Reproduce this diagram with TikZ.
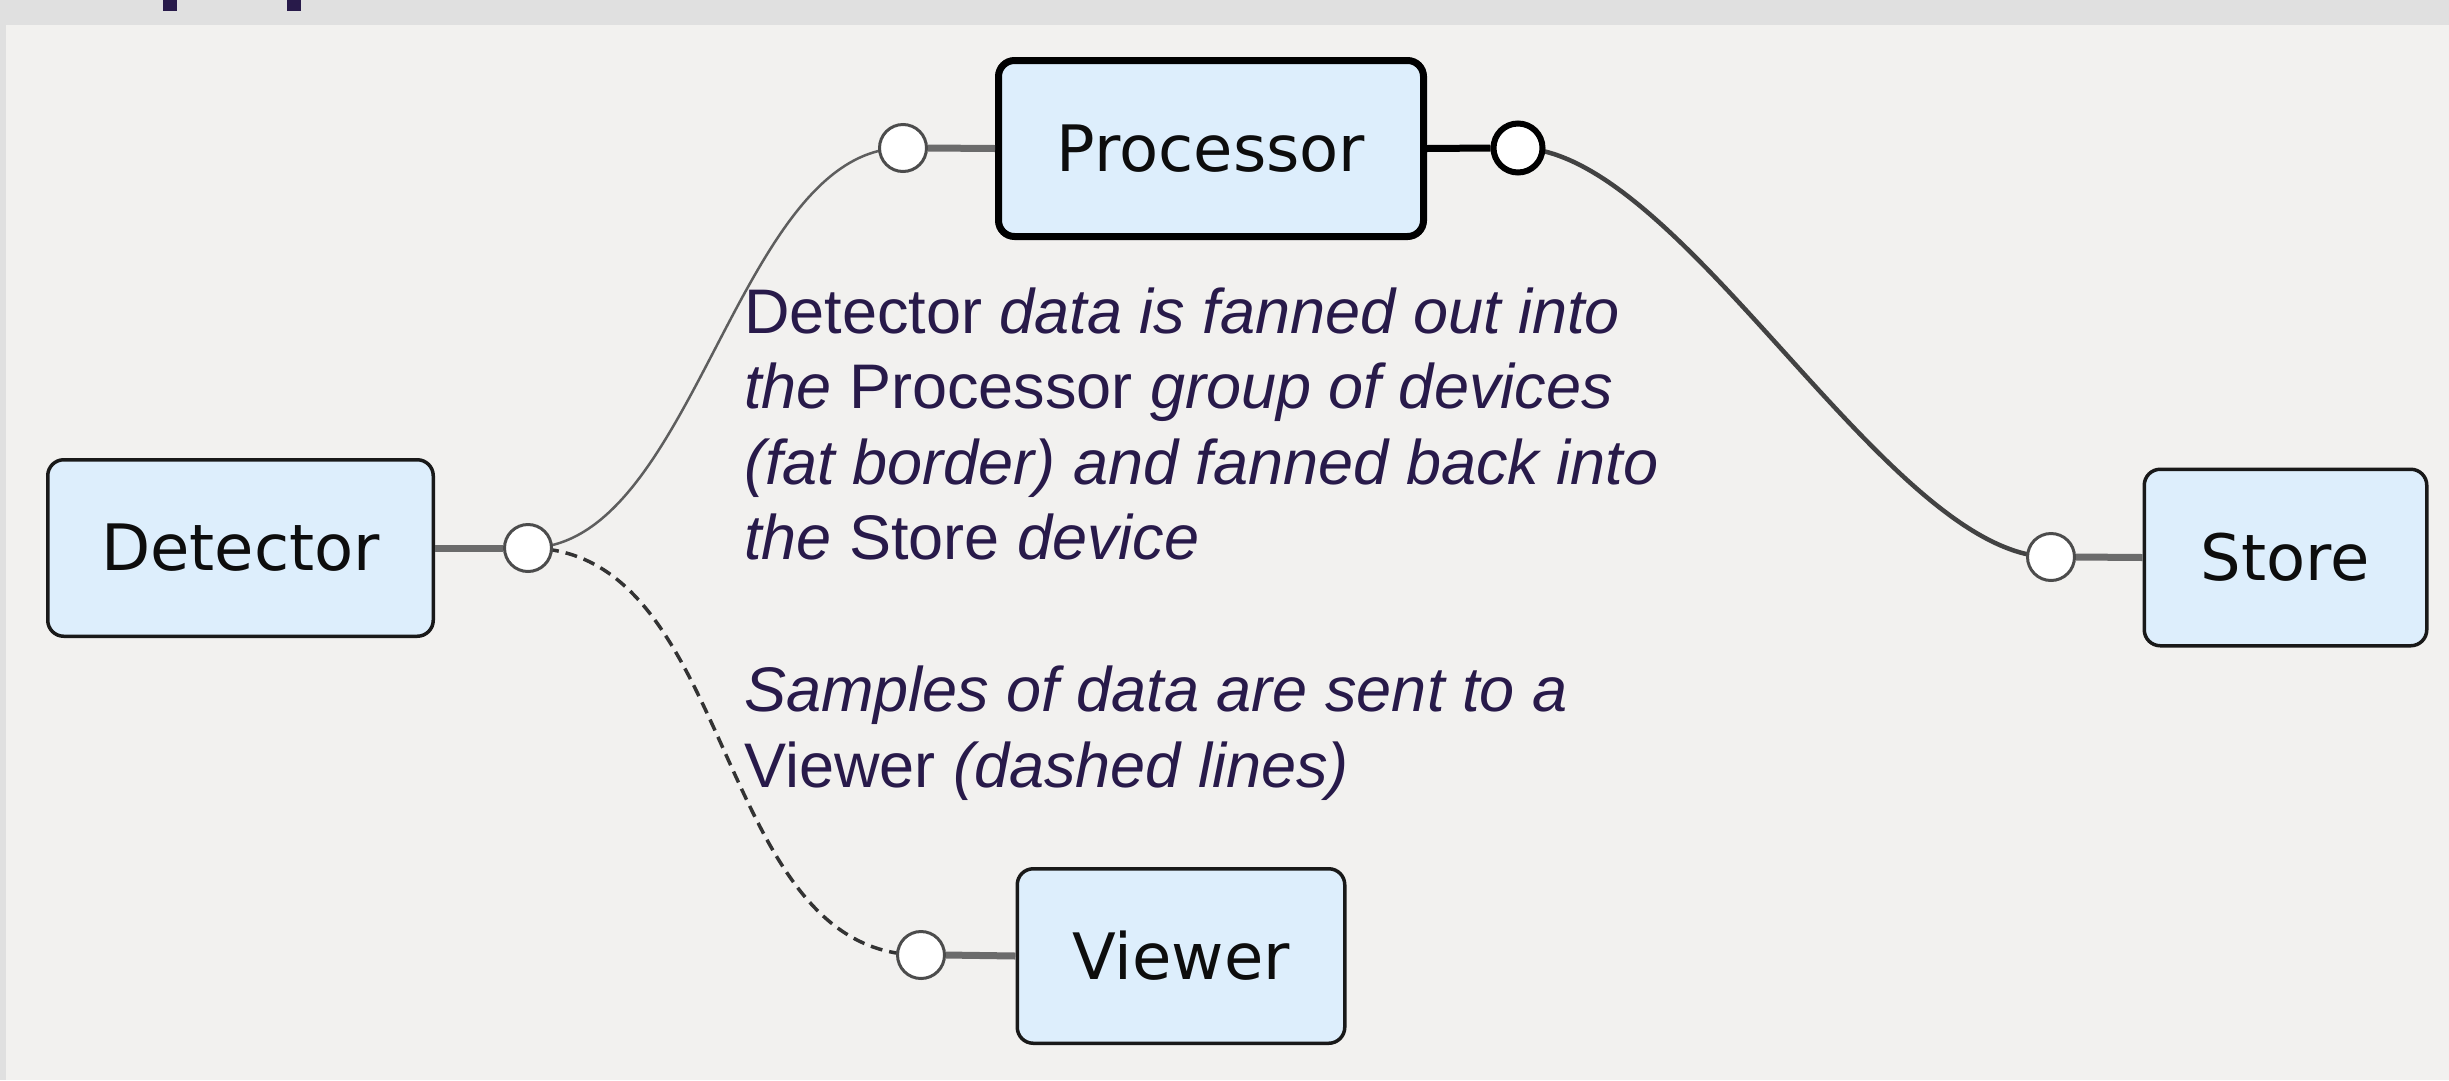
\documentclass[tikz,border=0pt]{standalone}
\usepackage{fontspec}
\setmainfont{Liberation Sans}
\newfontfamily\labelfont{DejaVu Sans}

\pgfdeclarelayer{panel}
\pgfdeclarelayer{wires}
\pgfsetlayers{panel,wires,main}

\definecolor{pagegrey}{HTML}{E0E0E0}
\definecolor{panelbg}{HTML}{F2F1EF}
\definecolor{boxfill}{HTML}{DDEEFC}
\definecolor{ink}{HTML}{281A4A}
\definecolor{stubgrey}{HTML}{6B6B6B}
\definecolor{thinwire}{HTML}{5E5E5E}
\definecolor{fatwire}{HTML}{424242}
\definecolor{dashwire}{HTML}{333333}

\tikzset{
  device/.style={draw=black!90, line width=3.5pt, fill=boxfill, rounded corners=16pt,
    inner sep=0pt, text=black!95, font=\labelfont\fontsize{64}{77}\selectfont},
  fatdevice/.style={device, draw=black, line width=7pt},
  port/.style={circle, draw=black!70, line width=3pt, fill=white,
    minimum size=47pt, inner sep=0pt},
  fatport/.style={port, draw=black, line width=6pt, minimum size=49pt},
  stub/.style={draw=stubgrey, line width=7pt},
  fatstub/.style={draw=black, line width=7pt},
  note/.style={anchor=base west, inner sep=0pt, text=ink,
    font=\fontsize{63}{75}\selectfont},
}

\begin{document}
\begin{tikzpicture}[x=1pt, y=-1pt]
\useasboundingbox (0,0) rectangle (2449,1080);

% window chrome and canvas
\begin{pgfonlayer}{panel}
  \fill[pagegrey] (0,0) rectangle (2449,1080);
  \fill[panelbg] (6,25) rectangle (2449,1080);
  \fill[ink] (163,0) rectangle (177,10.5);
  \fill[ink] (287,0) rectangle (301,10.5);
\end{pgfonlayer}

% devices
\node[device, minimum width=385.5pt, minimum height=176.5pt] (det) at (240.5,548) {Detector};
\node[fatdevice, minimum width=425pt, minimum height=176pt] (proc) at (1211,148.5) {Processor};
\node[device, minimum width=282.5pt, minimum height=176.5pt] (store) at (2285.5,557.5) {Store};
\node[device, minimum width=327.5pt, minimum height=174.5pt] (view) at (1181,956) {Viewer};

% ports
\node[port] (dp) at (528,548) {};
\node[port] (pl) at (903,148) {};
\node[fatport] (pr) at (1518,148) {};
\node[port] (sp) at (2051,557) {};
\node[port] (vp) at (921,955) {};

% stubs from devices to their ports
\draw[stub] (det.east) -- (dp.west);
\draw[stub] (pl.east) -- (proc.west);
\draw[fatstub] (proc.east) -- (pr.west);
\draw[stub] (sp.east) -- (store.west);
\draw[stub] (vp.east) -- (view.west);

% connections between ports
\begin{pgfonlayer}{wires}
  \draw[draw=thinwire, line width=2.5pt]
    (dp.center) .. controls +(167,0) and +(-167,0) .. (pl.center);
  \draw[draw=fatwire, line width=4.5pt]
    (pr.center) .. controls +(163,0) and +(-163,0) .. (sp.center);
  \draw[draw=dashwire, line width=3.5pt, dash pattern=on 12pt off 7pt]
    (dp.center) .. controls +(210,0) and +(-210,0) .. (vp.center);
\end{pgfonlayer}

% explanatory notes
\node[note] (n1) at (744,333) {Detector \textit{data is fanned out into}};
\node[note] (n2) at (744,408.5) {\textit{the} Processor \textit{group of devices}};
\node[note] (n3) at (744,484) {\textit{(fat border) and fanned back into}};
\node[note] (n4) at (744,559.5) {\textit{the} Store \textit{device}};
\node[note] (n5) at (744,711.5) {\textit{Samples of data are sent to a}};
\node[note] (n6) at (744,787) {Viewer \textit{(dashed lines)}};
\end{tikzpicture}
\end{document}
